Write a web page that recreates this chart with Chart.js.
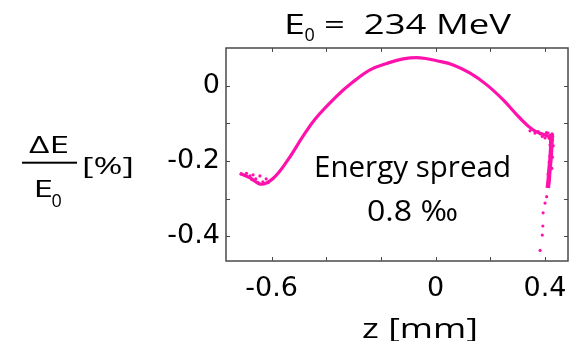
<!DOCTYPE html>
<html><head><meta charset="utf-8">
<script src="https://cdn.jsdelivr.net/npm/chart.js@4/dist/chart.umd.min.js"></script>
<style>html,body{margin:0;padding:0;background:#fff;overflow:hidden}</style>
</head><body>
<canvas id="c" width="571" height="341"></canvas>
<script>
// ---- data ----
const curveZ = [-0.716,-0.679,-0.637,-0.594,-0.545,-0.484,-0.440,-0.362,-0.302,-0.240,-0.179,-0.119,-0.057,0.004,0.064,0.126,0.187,0.247,0.308,0.357,0.400,0.418];
const curveE = [-0.233,-0.245,-0.262,-0.246,-0.202,-0.133,-0.088,-0.028,0.010,0.042,0.059,0.071,0.074,0.066,0.055,0.033,0.002,-0.038,-0.086,-0.118,-0.131,-0.136];
const tailZ = [0.425,0.423,0.420,0.416,0.413,0.410];
const tailE = [-0.128,-0.160,-0.195,-0.225,-0.255,-0.272];
const sprayZ = [-0.712,-0.692,-0.679,-0.668,-0.658,-0.672,-0.650,-0.632,-0.613,-0.620,-0.643,
  0.345,0.363,0.375,0.382,0.390,0.400,0.405,0.411,0.415,0.420,0.426,0.428,0.426,0.430,0.418,0.422,0.427,0.418,0.425,0.415,0.418,0.411,0.415,0.411,0.406,0.400,0.393,0.392,0.390,0.382];
const sprayE = [-0.235,-0.233,-0.240,-0.237,-0.248,-0.250,-0.258,-0.256,-0.258,-0.248,-0.240,
  -0.120,-0.126,-0.122,-0.128,-0.135,-0.139,-0.125,-0.126,-0.140,-0.150,-0.128,-0.135,-0.144,-0.160,-0.158,-0.171,-0.190,-0.187,-0.220,-0.203,-0.219,-0.235,-0.251,-0.267,-0.295,-0.312,-0.338,-0.373,-0.397,-0.438];
const xTicks = [-0.6,-0.4,-0.2,0,0.2,0.4];
const xTickLabels = ['-0.6','','','0','','0.4'];
const yTicks = [-0.4,-0.3,-0.2,-0.1,0];
const yTickLabels = ['-0.4','','-0.2','','0'];
const titleMain = 'E';
const titleSub = '0';
const titleRest = '=  234 MeV';
const noteLine1 = 'Energy spread';
const noteLine2 = '0.8 \u2030';
const xTitle = 'z [mm]';
const yNum = '\u0394E';
const yDen = 'E';
const yDenSub = '0';
const yUnit = '[%]';

const PINK = '#ff12ac';
const pts = (xs, ys) => xs.map((x, i) => ({x: x, y: ys[i]}));

function fitText(ctx, text, left, right, baseline, font) {
  ctx.font = font;
  const w = ctx.measureText(text).width;
  const sx = (right - left) / w;
  ctx.save();
  ctx.translate(left, baseline);
  ctx.scale(sx, 1);
  ctx.textAlign = 'left';
  ctx.textBaseline = 'alphabetic';
  ctx.fillText(text, 0, 0);
  ctx.restore();
}
function plainText(ctx, text, left, baseline, font) {
  ctx.font = font;
  ctx.textAlign = 'left';
  ctx.textBaseline = 'alphabetic';
  ctx.fillText(text, left, baseline);
}

const decor = {
  id: 'decor',
  afterDatasetsDraw(chart) {
    const ctx = chart.ctx, a = chart.chartArea;
    const xs = chart.scales.x, ys = chart.scales.y;
    ctx.save();
    ctx.strokeStyle = '#4a4a4a';
    ctx.lineWidth = 1.5;
    ctx.strokeRect(a.left, a.top, a.right - a.left, a.bottom - a.top);
    ctx.lineWidth = 1;
    ctx.beginPath();
    xTicks.forEach(v => {
      const p = Math.round(xs.getPixelForValue(v)) + 0.5;
      ctx.moveTo(p, a.bottom); ctx.lineTo(p, a.bottom - 4);
      ctx.moveTo(p, a.top); ctx.lineTo(p, a.top + 4);
    });
    yTicks.forEach(v => {
      const p = Math.round(ys.getPixelForValue(v)) + 0.5;
      ctx.moveTo(a.left, p); ctx.lineTo(a.left + 4, p);
      ctx.moveTo(a.right, p); ctx.lineTo(a.right - 4, p);
    });
    ctx.stroke();

    ctx.fillStyle = '#000';
    // title
    fitText(ctx, titleMain, 284, 305, 33.5, '28px "Open Sans"');
    plainText(ctx, titleSub, 304.5, 40.5, '18px "Open Sans"');
    fitText(ctx, titleRest, 324, 511, 33.5, '28px "Open Sans"');
    // annotation
    fitText(ctx, noteLine1, 314, 511, 176.5, '29px "Open Sans"');
    fitText(ctx, noteLine2, 367, 458, 221, '29px "Open Sans"');
    // x title
    fitText(ctx, xTitle, 362, 478, 338, '28px "Open Sans"');
    // y title (fraction)
    fitText(ctx, yNum, 29, 69, 153.3, '23px "Open Sans"');
    ctx.fillRect(22, 161.7, 55, 2);
    fitText(ctx, yDen, 33.5, 53, 196.7, '24px "Open Sans"');
    plainText(ctx, yDenSub, 51.5, 206.5, '18px "Open Sans"');
    fitText(ctx, yUnit, 82, 134, 174, '24px "Open Sans"');
    ctx.restore();
  }
};

new Chart(document.getElementById('c'), {
  type: 'scatter',
  data: {
    datasets: [
      {data: pts(curveZ, curveE), showLine: true, borderColor: PINK, borderWidth: 3.2,
       pointRadius: 0, tension: 0.4, order: 2},
      {data: pts(tailZ, tailE), showLine: true, borderColor: PINK, borderWidth: 4.5,
       pointRadius: 0, tension: 0, order: 1},
      {data: pts(sprayZ, sprayE), showLine: false, backgroundColor: PINK, borderWidth: 0,
       pointRadius: 1.6, order: 0}
    ]
  },
  options: {
    responsive: false,
    animation: false,
    events: [],
    layout: {autoPadding: false, padding: {top: 48, right: 3, left: 0, bottom: 0}},
    plugins: {legend: {display: false}, tooltip: {enabled: false}},
    scales: {
      x: {
        type: 'linear', min: -0.767, max: 0.484,
        afterBuildTicks: s => { s.ticks = xTicks.map(v => ({value: v})); },
        afterFit: s => { s.height = 80; s.paddingLeft = 0; s.paddingRight = 0; },
        grid: {display: false, drawTicks: false},
        border: {display: false},
        ticks: {
          autoSkip: false, maxRotation: 0, padding: 12, color: '#000',
          font: {family: 'DejaVu Sans', size: 27},
          callback: v => xTickLabels[xTicks.findIndex(t => Math.abs(t - v) < 1e-9)] || ''
        }
      },
      y: {
        type: 'linear', min: -0.466, max: 0.100,
        afterBuildTicks: s => { s.ticks = yTicks.map(v => ({value: v})); },
        afterFit: s => { s.width = 226; s.paddingTop = 0; s.paddingBottom = 0; },
        grid: {display: false, drawTicks: false},
        border: {display: false},
        ticks: {
          autoSkip: false, padding: 6, color: '#000',
          font: {family: 'DejaVu Sans', size: 27},
          callback: v => yTickLabels[yTicks.findIndex(t => Math.abs(t - v) < 1e-9)] || ''
        }
      }
    }
  },
  plugins: [decor]
});
</script>
</body></html>
